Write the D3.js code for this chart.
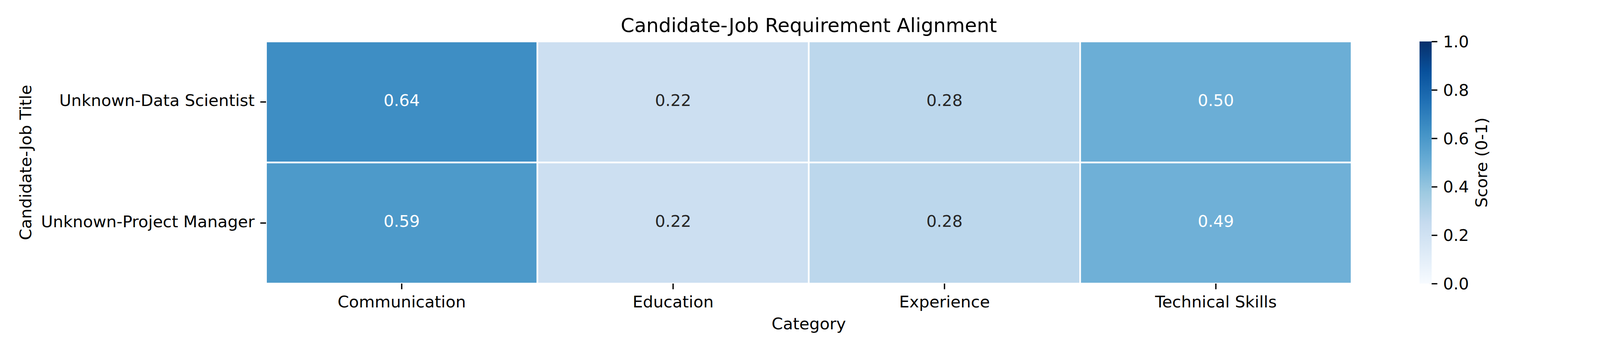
<!DOCTYPE html>
<html>
<head>
<meta charset="utf-8">
<script src="https://cdn.jsdelivr.net/npm/d3@7"></script>
<style>
  body { margin: 0; background: #fff; }
  svg { display: block; font-family: "DejaVu Sans", sans-serif; }
</style>
</head>
<body>
<div id="chart"></div>
<script>
const categories = ["Communication", "Education", "Experience", "Technical Skills"];
const candidates = ["Unknown-Data Scientist", "Unknown-Project Manager"];
const dataScientistScores = [0.64, 0.22, 0.28, 0.50];
const projectManagerScores = [0.59, 0.22, 0.28, 0.49];
const colorbarTicks = [0, 0.2, 0.4, 0.6, 0.8, 1.0];
// matplotlib "Blues" anchor colours
const bluesColors = ["#f7fbff", "#deebf7", "#c6dbef", "#9ecae1", "#6baed6",
                     "#4292c6", "#2171b5", "#08519c", "#08306b"];

const width = 4200;
const height = 900;
const pt = 300 / 72;            // figure was saved at 300 dpi
const fontSize = 10 * pt;
const tickLen = 3.5 * pt;
const tickPad = 3.5 * pt;

const plot = {left: 681, right: 3460, top: 106, bottom: 725};
const cbar = {left: 3634, right: 3665};

const scores = [dataScientistScores, projectManagerScores];
const cells = [];
candidates.forEach((c, r) => {
  categories.forEach((k, i) => cells.push({row: c, col: k, value: scores[r][i]}));
});

const x = d3.scaleBand().domain(categories).range([plot.left, plot.right]);
const y = d3.scaleBand().domain(candidates).range([plot.top, plot.bottom]);
const color = d3.scaleLinear()
    .domain(d3.range(bluesColors.length).map(i => i / (bluesColors.length - 1)))
    .range(bluesColors)
    .interpolate(d3.interpolateRgb)
    .clamp(true);
const cy = d3.scaleLinear().domain([0, 1]).range([plot.bottom, plot.top]);

// seaborn picks the annotation colour from relative luminance
function luminance(c) {
  const rgb = d3.rgb(c);
  const lin = v => {
    v /= 255;
    return v <= 0.03928 ? v / 12.92 : Math.pow((v + 0.055) / 1.055, 2.4);
  };
  return 0.2126 * lin(rgb.r) + 0.7152 * lin(rgb.g) + 0.0722 * lin(rgb.b);
}

const svg = d3.select("#chart").append("svg")
    .attr("width", width)
    .attr("height", height)
    .style("font-size", fontSize + "px");

svg.append("g")
    .attr("class", "cells")
  .selectAll("rect")
  .data(cells)
  .join("rect")
    .attr("x", d => x(d.col))
    .attr("y", d => y(d.row))
    .attr("width", x.bandwidth())
    .attr("height", y.bandwidth())
    .attr("fill", d => color(d.value))
    .attr("stroke", "#fff")
    .attr("stroke-width", 1 * pt);

svg.append("g")
    .attr("class", "annot")
    .attr("text-anchor", "middle")
  .selectAll("text")
  .data(cells)
  .join("text")
    .attr("x", d => x(d.col) + x.bandwidth() / 2)
    .attr("y", d => y(d.row) + y.bandwidth() / 2)
    .attr("dy", 10)
    .attr("fill", d => luminance(color(d.value)) > 0.408 ? "#262626" : "#fff")
    .text(d => d.value.toFixed(2));

// axes
const xAxis = svg.append("g")
    .attr("transform", `translate(0,${plot.bottom})`)
    .call(d3.axisBottom(x).tickSize(tickLen).tickPadding(tickPad));
xAxis.select(".domain").remove();
xAxis.selectAll("line").attr("stroke", "#000").attr("stroke-width", 0.8 * pt);
xAxis.selectAll("text")
    .attr("y", 61).attr("dy", null)
    .attr("fill", "#000")
    .style("font-size", fontSize + "px")
    .style("font-family", "DejaVu Sans");

const yAxis = svg.append("g")
    .attr("transform", `translate(${plot.left},0)`)
    .call(d3.axisLeft(y).tickSize(tickLen).tickPadding(tickPad));
yAxis.select(".domain").remove();
yAxis.selectAll("line").attr("stroke", "#000").attr("stroke-width", 0.8 * pt);
yAxis.selectAll("text")
    .attr("dy", 10.5)
    .attr("fill", "#000")
    .style("font-size", fontSize + "px")
    .style("font-family", "DejaVu Sans");

// colorbar
const grad = svg.append("defs").append("linearGradient")
    .attr("id", "blues")
    .attr("x1", 0).attr("y1", 1).attr("x2", 0).attr("y2", 0);
grad.selectAll("stop")
  .data(bluesColors)
  .join("stop")
    .attr("offset", (d, i) => i / (bluesColors.length - 1))
    .attr("stop-color", d => d);

svg.append("rect")
    .attr("x", cbar.left)
    .attr("y", plot.top)
    .attr("width", cbar.right - cbar.left)
    .attr("height", plot.bottom - plot.top)
    .attr("fill", "url(#blues)");

const cAxis = svg.append("g")
    .attr("transform", `translate(${cbar.right},0)`)
    .call(d3.axisRight(cy).tickValues(colorbarTicks).tickFormat(d3.format(".1f"))
      .tickSize(tickLen).tickPadding(tickPad));
cAxis.select(".domain").remove();
cAxis.selectAll("line").attr("stroke", "#000").attr("stroke-width", 0.8 * pt);
cAxis.selectAll("text")
    .attr("dy", 14.5)
    .attr("fill", "#000")
    .style("font-size", fontSize + "px")
    .style("font-family", "DejaVu Sans");

// labels
const midX = (plot.left + plot.right) / 2;
const midY = (plot.top + plot.bottom) / 2;

svg.append("text")
    .attr("x", midX)
    .attr("y", 82)
    .attr("text-anchor", "middle")
    .style("font-size", 12 * pt + "px")
    .text("Candidate-Job Requirement Alignment");

svg.append("text")
    .attr("x", midX)
    .attr("y", 842)
    .attr("text-anchor", "middle")
    .text("Category");

svg.append("text")
    .attr("transform", `translate(80,${midY}) rotate(-90)`)
    .attr("text-anchor", "middle")
    .text("Candidate-Job Title");

svg.append("text")
    .attr("transform", `translate(3807,${midY}) rotate(-90)`)
    .attr("text-anchor", "middle")
    .text("Score (0-1)");
</script>
</body>
</html>
